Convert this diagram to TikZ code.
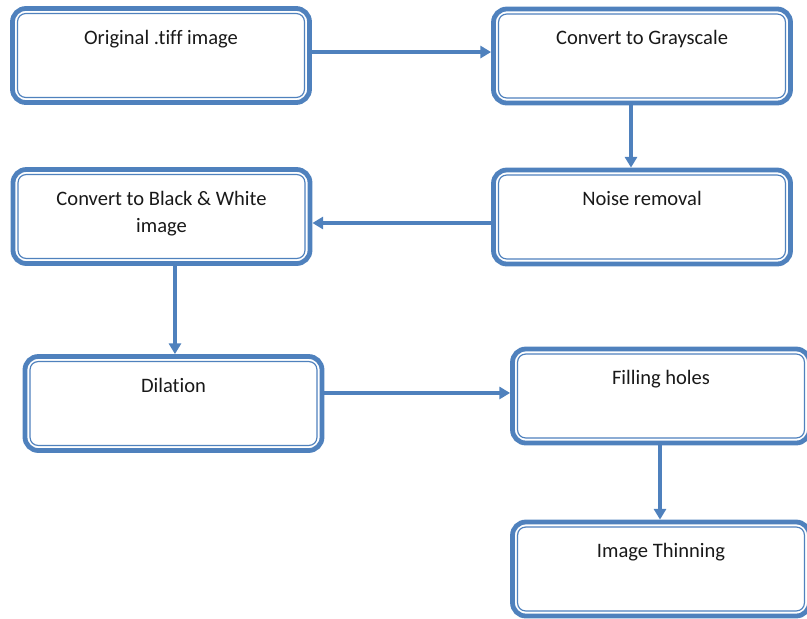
\documentclass[tikz,border=0pt]{standalone}
\usepackage{fontspec}
\setmainfont{Carlito}[Ligatures=NoCommon]
\usetikzlibrary{arrows.meta,calc}
\definecolor{bblue}{RGB}{79,129,189}
\begin{document}
\begin{tikzpicture}[x=0.75pt,y=-0.75pt,
  box/.style={draw=bblue,line width=3.6pt,rounded corners=10pt,fill=white,
    minimum width=222.75pt,minimum height=70.5pt,inner sep=0pt,
    label={[anchor=base,yshift=-28.5pt,font=\fontsize{15.4pt}{20.25pt}\selectfont,align=center,text=black!90]north:#1}},
  inner/.style={draw=bblue,line width=0.9pt,rounded corners=6pt},
  flow/.style={draw=bblue,line width=3pt,-{Triangle[length=8pt,width=9pt]}}]
\useasboundingbox (0,0) rectangle (807,618);
\node[box={Original .tiff image}] (b1) at (161,55.5) {};
\node[box={Convert to Grayscale}] (b2) at (642,56) {};
\node[box={Convert to Black \& White}] (b3) at (161.5,216.5) {};
\node[font=\fontsize{15.4pt}{20.25pt}\selectfont,text=black!90,anchor=base] (b3t) at ([yshift=-48.75pt]b3.north) {image};
\node[box={Noise removal}] (b4) at (642,217) {};
\node[box={Dilation}] (b5) at (173.5,403.5) {};
\node[box={Filling holes}] (b6) at (661,396) {};
\node[box={Image Thinning}] (b7) at (661,569) {};
\foreach \n in {b1,b2,b3,b4,b5,b6,b7}
  \draw[inner] ([xshift=5.6pt,yshift=-5.6pt]\n.north west) rectangle ([xshift=-5.6pt,yshift=5.6pt]\n.south east);
\draw[flow] ([yshift=2.6pt]b1.east) -- ([yshift=2.6pt]b1.east -| b2.west);
\draw[flow] ([xshift=-8.25pt]b2.south) -- ([xshift=-8.25pt]b2.south |- b4.north);
\draw[flow] ([yshift=-4.5pt]b4.west) -- ([yshift=-4.5pt]b4.west -| b3.east);
\draw[flow] ([xshift=10.1pt]b3.south) -- ([xshift=10.1pt]b3.south |- b5.north);
\draw[flow] ([yshift=7.9pt]b5.east) -- ([yshift=7.9pt]b5.east -| b6.west);
\draw[flow] ([xshift=-0.75pt]b6.south) -- ([xshift=-0.75pt]b6.south |- b7.north);
\end{tikzpicture}
\end{document}
